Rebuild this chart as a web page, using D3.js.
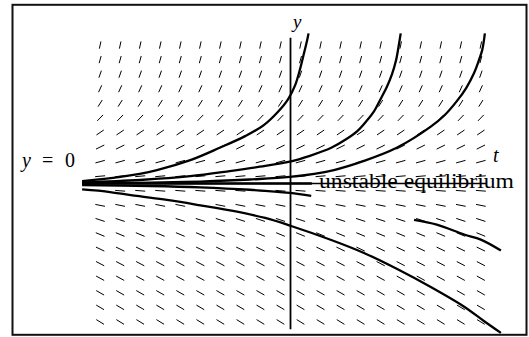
<!DOCTYPE html>
<html>
<head>
<meta charset="utf-8">
<script src="https://cdn.jsdelivr.net/npm/d3@7"></script>
<style>
  body { margin: 0; background: #fff; }
  svg { display: block; }
</style>
</head>
<body>
<svg width="529" height="337"></svg>
<script>
// grid of the direction field (t columns, y rows) and the slope read on each row
var tCols = [-2.85, -2.55, -2.25, -1.95, -1.65, -1.35, -1.05, -0.75, -0.45, -0.15,
              0.15,  0.45,  0.75,  1.05,  1.35,  1.65,  1.95,  2.25,  2.55,  2.85];
var yRows = [-1.9, -1.7, -1.5, -1.3, -1.1, -0.9, -0.7, -0.5, -0.3, -0.1,
              0.1,  0.3,  0.5,  0.7,  0.9,  1.1,  1.3,  1.5,  1.7,  1.9];
var rowSlopes = [-0.56, -0.54, -0.52, -0.5, -0.48, -0.44, -0.38, -0.3, -0.18, -0.07,
                  0.08,  0.25,  0.45,  0.62, 0.95,  1.45,  2.0,   2.6,  3.3,   4.2];

// solution curves, [t, y]
var curveA = [[-3.12, 0.034], [-2.55, 0.09], [-2.0, 0.185], [-1.5, 0.32], [-1.06, 0.49],
              [-0.68, 0.65], [-0.40, 0.80], [-0.19, 0.98], [-0.04, 1.15], [0.07, 1.35],
              [0.14, 1.56], [0.20, 1.78], [0.25, 1.97], [0.27, 2.06]];
var curveB = [[-3.12, 0.014], [-2.25, 0.048], [-1.5, 0.10], [-0.91, 0.17], [-0.46, 0.23],
              [-0.01, 0.30], [0.29, 0.38], [0.61, 0.49], [0.82, 0.60], [1.0, 0.72],
              [1.14, 0.86], [1.25, 0.99], [1.35, 1.16], [1.44, 1.32], [1.52, 1.50],
              [1.58, 1.69], [1.62, 1.89], [1.65, 2.06]];
var curveC = [[-3.12, 0.003], [-2.10, 0.01], [-1.35, 0.027], [-0.61, 0.055], [-0.01, 0.09],
              [0.65, 0.185], [1.10, 0.31], [1.59, 0.49], [2.10, 0.78], [2.31, 0.94],
              [2.49, 1.13], [2.63, 1.31], [2.75, 1.52], [2.82, 1.69], [2.87, 1.83], [2.91, 2.06]];
var curveEq = [[-3.12, 0], [0.32, 0]];
var curveD = [[-3.12, -0.023], [-2.10, -0.034], [-1.35, -0.052], [-0.61, -0.086],
              [-0.01, -0.13], [0.31, -0.171]];
var curveE = [[-3.12, -0.082], [-2.70, -0.117], [-2.30, -0.171], [-1.85, -0.226], [-1.35, -0.30],
              [-0.86, -0.377], [-0.38, -0.473], [0.01, -0.583], [0.61, -0.775], [1.10, -0.953],
              [1.59, -1.17], [2.10, -1.42], [2.60, -1.69], [2.90, -1.89], [3.15, -2.05]];
var curveF = [[1.85, -0.50], [2.19, -0.565], [2.60, -0.70], [2.85, -0.77], [3.15, -0.92]];

var curves = [curveA, curveB, curveC, curveEq, curveD, curveE, curveF];

var serif = "'Liberation Serif', 'Times New Roman', Times, serif";

var svg = d3.select("svg"),
    width = +svg.attr("width"),
    height = +svg.attr("height");

var x = d3.scaleLinear().domain([-3.15, 3.15]).range([80.1, 500.9]);
var y = d3.scaleLinear().domain([-2.05, 2.05]).range([332.9, 34.1]);

// frame
svg.append("rect")
    .attr("x", 12.5).attr("y", 4.8)
    .attr("width", 514).attr("height", 330)
    .attr("fill", "none")
    .attr("stroke", "#111")
    .attr("stroke-width", 2);

// direction field: segments of equal length in grid units
var dT = tCols[1] - tCols[0],
    dY = yRows[1] - yRows[0];
var field = [];
yRows.forEach(function(yv, j) {
  tCols.forEach(function(tv) {
    field.push({t: tv, y: yv, m: rowSlopes[j]});
  });
});

svg.append("g")
  .selectAll("line")
  .data(field)
  .enter().append("line")
    .attr("x1", function(d) { return x(d.t - half(d)); })
    .attr("y1", function(d) { return y(d.y - half(d) * d.m); })
    .attr("x2", function(d) { return x(d.t + half(d)); })
    .attr("y2", function(d) { return y(d.y + half(d) * d.m); })
    .style("stroke", "#000")
    .style("stroke-width", 1);

function half(d) {
  var L = Math.sqrt(1 / (dT * dT) + (d.m * d.m) / (dY * dY));
  return 0.25 / L;
}

// axes
svg.append("line")
    .attr("x1", x(0)).attr("x2", x(0))
    .attr("y1", y(2)).attr("y2", y(-2))
    .style("stroke", "#000")
    .style("stroke-width", 1.8);

svg.append("line")
    .attr("x1", x(-3.12)).attr("x2", x(2.94))
    .attr("y1", y(0)).attr("y2", y(0))
    .style("stroke", "#000")
    .style("stroke-width", 1.3);

// solution curves
var line = d3.line()
    .x(function(d) { return x(d[0]); })
    .y(function(d) { return y(d[1]); })
    .curve(d3.curveCatmullRom);

svg.append("g")
  .selectAll("path")
  .data(curves)
  .enter().append("path")
    .attr("d", line)
    .attr("fill", "none")
    .style("stroke", "#000")
    .style("stroke-width", 2.3);

// labels
function label(tx, ty, size, italic, s) {
  return svg.append("text")
      .attr("x", tx).attr("y", ty)
      .attr("font-family", serif)
      .attr("font-size", size)
      .attr("font-style", italic ? "italic" : "normal")
      .attr("fill", "#000")
      .text(s);
}

label(293, 28, 19, true, "y");
label(493, 162, 20, true, "t");
label(22, 167, 20, true, "y");
label(42, 167, 20, false, "=");
label(65, 167, 20, false, "0");
label(319, 188, 22, false, "unstable equilibrium")
    .attr("textLength", 195)
    .attr("lengthAdjust", "spacingAndGlyphs");
</script>
</body>
</html>
